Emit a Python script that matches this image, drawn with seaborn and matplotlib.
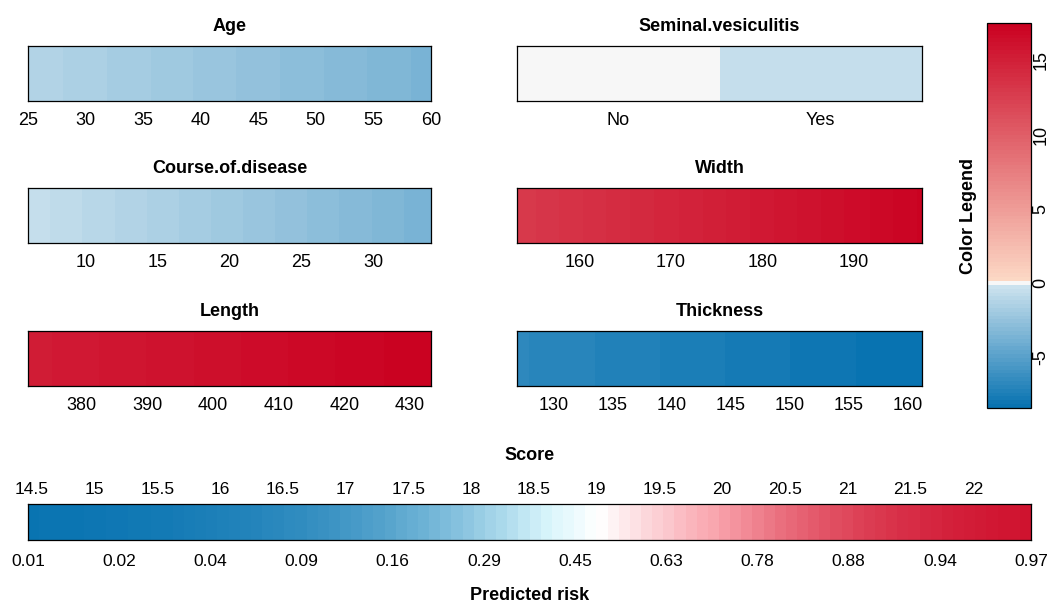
import numpy as np
import pandas as pd
import matplotlib
matplotlib.use("Agg")
import matplotlib.pyplot as plt
import seaborn as sns
from matplotlib.colors import ListedColormap, LinearSegmentedColormap, Normalize, to_rgb
from matplotlib.cm import ScalarMappable

# ---- point contributions of each predictor (value range -> points at both ends) ----
age_range = [25, 60]
age_points = [-1.2, -3.6]
age_ticks = [25, 30, 35, 40, 45, 50, 55, 60]

seminal_levels = ["No", "Yes"]
seminal_points = [0.0, -0.6]

course_range = [6, 34]
course_points = [-0.45, -3.7]
course_ticks = [10, 15, 20, 25, 30]

width_range = [153.2, 197.4]
width_points = [12.9, 17.3]
width_ticks = [160, 170, 180, 190]

length_range = [371.9, 433.2]
length_points = [15.3, 17.5]
length_ticks = [380, 390, 400, 410, 420, 430]

thickness_range = [126.9, 161.2]
thickness_points = [-6.8, -8.4]
thickness_ticks = [130, 135, 140, 145, 150, 155, 160]

legend_limits = [-8.4, 17.5]
legend_ticks = [-5, 0, 5, 10, 15]

# ---- total score and predicted risk ----
score_range = [14.47, 22.46]
score_ticks = [14.5, 15, 15.5, 16, 16.5, 17, 17.5, 18, 18.5, 19, 19.5, 20, 20.5, 21, 21.5, 22]
risk_intercept = 19.015
n_risk_labels = 12

W, H = 1051, 603
FONT = 13
FONT_SCORE = 12.5


def px_box(x0, y0, x1, y1):
    return [x0 / W, 1 - y1 / H, (x1 - x0) / W, (y1 - y0) / H]


def mix(c0, c1, t):
    a, b = np.array(to_rgb(c0)), np.array(to_rgb(c1))
    return tuple(a + (b - a) * t)


# Diverging palette for points: blue below zero, white at zero, red above
def points_cmap(vmin, vmax, n=100):
    edges = np.linspace(vmin, vmax, n + 1)
    cols = []
    for lo, hi in zip(edges[:-1], edges[1:]):
        mid = 0.5 * (lo + hi)
        if lo <= 0 < hi:
            cols.append(to_rgb("#f7f7f7"))
        elif mid < 0:
            cols.append(mix("#d1e5f0", "#0571b0", mid / vmin))
        else:
            cols.append(mix("#fddbc7", "#ca0020", mid / vmax))
    return ListedColormap(cols)


pcmap = points_cmap(*legend_limits)

risk_cmap = LinearSegmentedColormap.from_list(
    "risk",
    [(0.0, "#0571b0"), (0.40, "#d8f5fb"), (0.5, "#ffffff"),
     (0.72, "#f9a4ad"), (0.87, "#e04d60"), (1.0, "#ca0020")],
)

sns.set_style("white")
plt.rcParams["font.family"] = ["Liberation Sans", "DejaVu Sans"]
plt.rcParams["font.size"] = FONT
for key in ("text.color", "axes.labelcolor", "xtick.color", "ytick.color"):
    plt.rcParams[key] = "black"

fig = plt.figure(figsize=(W / 100, H / 100), dpi=100)


def frame(ax):
    for s in ax.spines.values():
        s.set_visible(True)
        s.set_linewidth(0.9)
        s.set_edgecolor("black")


def continuous_strip(box, title, rng, pts, ticks, n=240):
    ax = fig.add_axes(px_box(*box))
    x = rng[0] + (np.arange(n) + 0.5) * (rng[1] - rng[0]) / n
    slope = (pts[1] - pts[0]) / (rng[1] - rng[0])
    vals = pts[0] + slope * (x - rng[0])
    sns.heatmap(pd.DataFrame([vals]), ax=ax, cmap=pcmap,
                vmin=legend_limits[0], vmax=legend_limits[1],
                cbar=False, xticklabels=False, yticklabels=False)
    pos = [(t - rng[0]) / (rng[1] - rng[0]) * n for t in ticks]
    ax.set_xticks(pos)
    ax.set_xticklabels([f"{t:g}" for t in ticks], rotation=0)
    ax.set_yticks([])
    ax.tick_params(axis="x", length=0, pad=8, labelsize=FONT)
    ax.set_title(title, fontsize=FONT, fontweight="bold", pad=10.5)
    frame(ax)
    return ax


def categorical_strip(box, title, levels, pts):
    ax = fig.add_axes(px_box(*box))
    sns.heatmap(pd.DataFrame([pts]), ax=ax, cmap=pcmap,
                vmin=legend_limits[0], vmax=legend_limits[1],
                cbar=False, xticklabels=False, yticklabels=False)
    ax.set_xticks(np.arange(len(levels)) + 0.5)
    ax.set_xticklabels(levels, rotation=0)
    ax.set_yticks([])
    ax.tick_params(axis="x", length=0, pad=8, labelsize=FONT)
    ax.set_title(title, fontsize=FONT, fontweight="bold", pad=10.5)
    frame(ax)
    return ax


L = (28, 431)
R = (517, 922)
rows = [(46, 101), (188, 243), (331, 386)]

continuous_strip((L[0], rows[0][0], L[1], rows[0][1]), "Age", age_range, age_points, age_ticks)
categorical_strip((R[0], rows[0][0], R[1], rows[0][1]), "Seminal.vesiculitis", seminal_levels, seminal_points)
continuous_strip((L[0], rows[1][0], L[1], rows[1][1]), "Course.of.disease", course_range, course_points, course_ticks)
continuous_strip((R[0], rows[1][0], R[1], rows[1][1]), "Width", width_range, width_points, width_ticks)
continuous_strip((L[0], rows[2][0], L[1], rows[2][1]), "Length", length_range, length_points, length_ticks)
continuous_strip((R[0], rows[2][0], R[1], rows[2][1]), "Thickness", thickness_range, thickness_points, thickness_ticks)

# ---- colour legend for points ----
cax = fig.add_axes(px_box(987, 23, 1031, 408))
cb = fig.colorbar(ScalarMappable(norm=Normalize(*legend_limits), cmap=pcmap), cax=cax)
cb.set_ticks(legend_ticks)
cb.set_ticklabels([f"{t:g}" for t in legend_ticks])
cb.outline.set_linewidth(0.9)
cb.outline.set_edgecolor("black")
cax.tick_params(axis="y", length=0, pad=1, labelsize=FONT)
for lbl in cax.get_yticklabels():
    lbl.set_rotation(90)
    lbl.set_va("center")
cb.set_label("Color Legend", fontsize=FONT, fontweight="bold", labelpad=7)
cax.yaxis.set_label_position("left")

# ---- score bar coloured by predicted risk ----
n_s = 90
ax_s = fig.add_axes(px_box(28, 504, 1031, 540))
s_mid = score_range[0] + (np.arange(n_s) + 0.5) * (score_range[1] - score_range[0]) / n_s
risk = 1.0 / (1.0 + np.exp(-(s_mid - risk_intercept)))
sns.heatmap(pd.DataFrame([risk]), ax=ax_s, cmap=risk_cmap, vmin=0, vmax=1,
            cbar=False, xticklabels=False, yticklabels=False)
frame(ax_s)
ax_s.set_yticks([])


def to_cell(s):
    return (s - score_range[0]) / (score_range[1] - score_range[0]) * n_s


risk_pos = np.linspace(score_range[0], score_range[1], n_risk_labels)
risk_lab = 1.0 / (1.0 + np.exp(-(risk_pos - risk_intercept)))
ax_s.set_xticks([to_cell(s) for s in risk_pos])
ax_s.set_xticklabels([f"{r:.2f}" for r in risk_lab], rotation=0)
ax_s.tick_params(axis="x", length=0, pad=10, labelsize=FONT_SCORE)
ax_s.set_xlabel("Predicted risk", fontsize=FONT, fontweight="bold", labelpad=13)

ax_t = ax_s.twiny()
ax_t.set_xlim(ax_s.get_xlim())
ax_t.set_xticks([to_cell(s) for s in score_ticks])
ax_t.set_xticklabels([f"{s:g}" for s in score_ticks])
ax_t.tick_params(axis="x", length=0, pad=5, labelsize=FONT_SCORE)
ax_t.set_xlabel("Score", fontsize=FONT, fontweight="bold", labelpad=16)
for s in ax_t.spines.values():
    s.set_visible(False)

fig.savefig("out.png", dpi=100)
